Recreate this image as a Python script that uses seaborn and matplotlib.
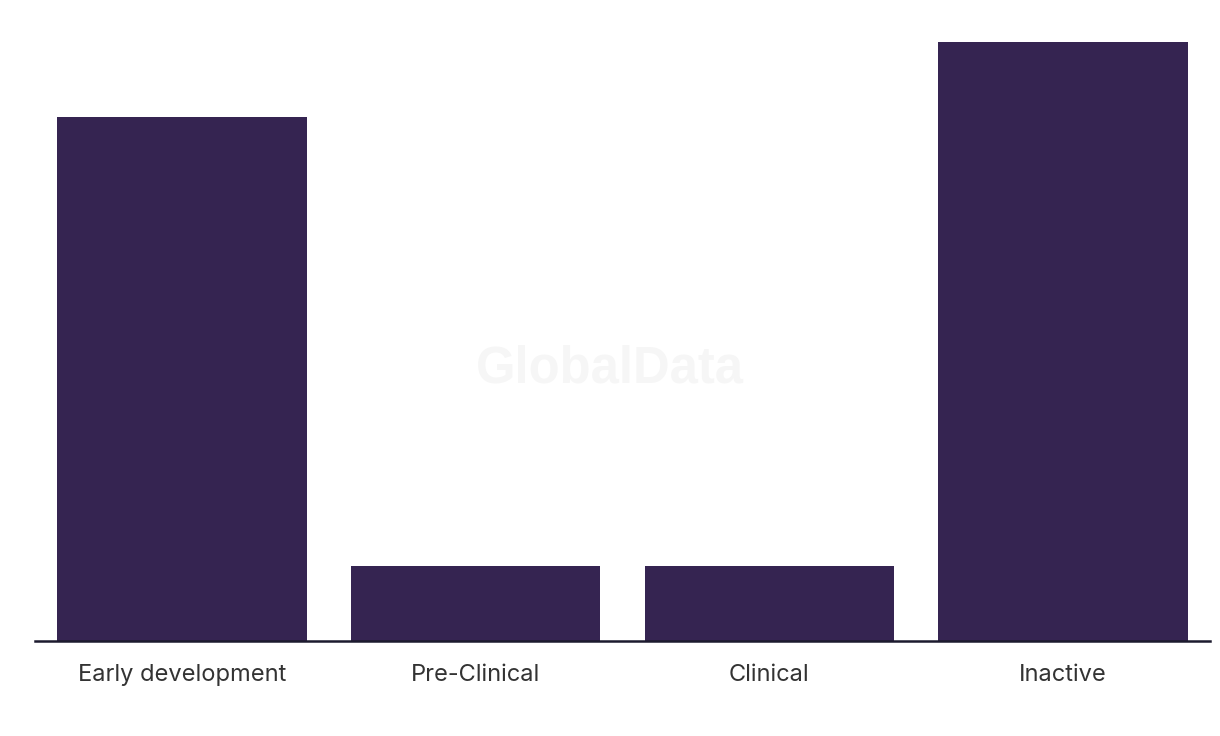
import matplotlib
matplotlib.use("Agg")
import matplotlib.pyplot as plt
import seaborn as sns
import pandas as pd

categories = ["Early development", "Pre-Clinical", "Clinical", "Inactive"]
values = [7, 1, 1, 8]

df = pd.DataFrame({"stage": categories, "count": values})

sns.set_theme(style="white")
plt.rcParams['font.family'] = ['Inter', 'DejaVu Sans']

fig = plt.figure(figsize=(12.2, 7.36), dpi=100)
ax = fig.add_axes([35/1220, 95/736, 1175/1220, 599/736])

sns.barplot(data=df, x="stage", y="count", color="#352451", saturation=1,
            width=0.85, linewidth=0, ax=ax)

ax.set_xlim(-0.5, 3.5)
ax.set_ylim(0, 8)
ax.set_xlabel("")
ax.set_ylabel("")
ax.set_yticks([])
for s in ["top", "right", "left"]:
    ax.spines[s].set_visible(False)
ax.spines["bottom"].set_color("#1c1a2e")
ax.spines["bottom"].set_linewidth(1.8)
ax.tick_params(axis="x", length=0, pad=16.5, labelsize=17, labelcolor="#333333")

fig.text(610/1220, 1 - 369/736, "GlobalData", ha="center", va="center",
         fontsize=36.5, fontweight="bold", color="#f6f6f6", zorder=0,
         family=["Liberation Sans", "DejaVu Sans"])
ax.set_zorder(1)
ax.patch.set_alpha(0)

fig.savefig("out.png", dpi=100)
